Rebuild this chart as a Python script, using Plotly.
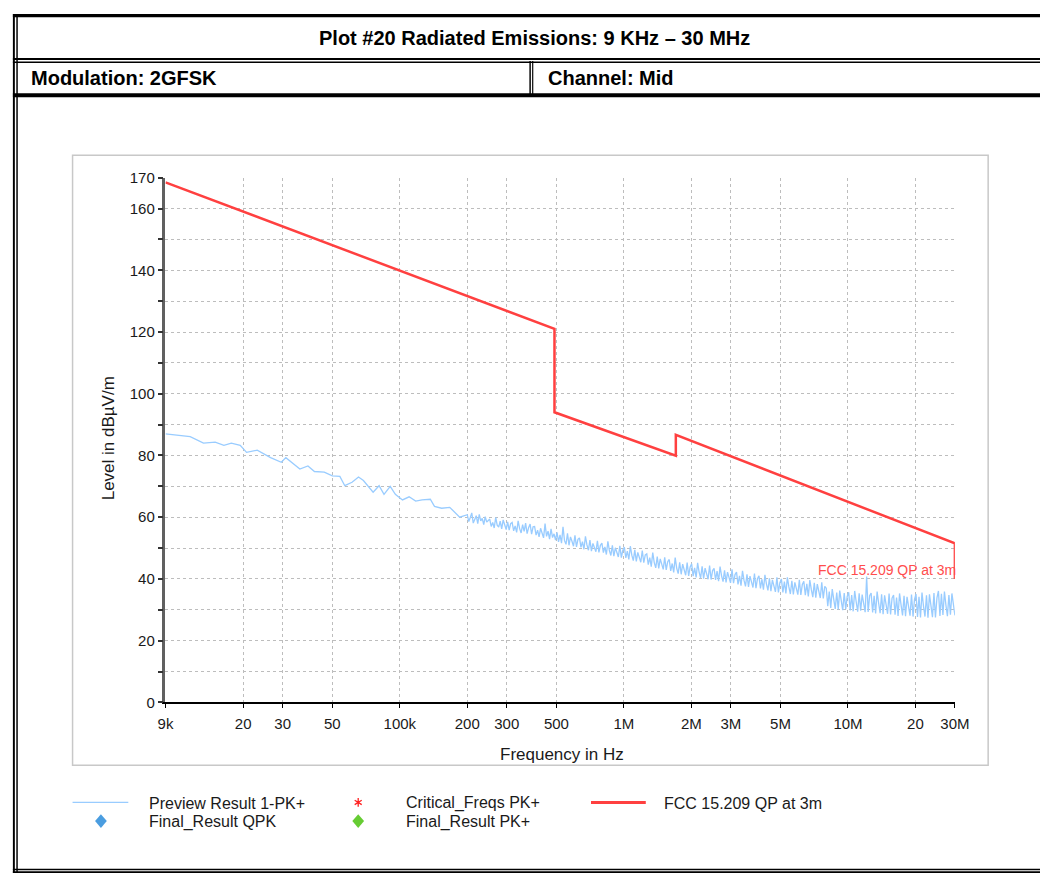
import numpy as np
import plotly.graph_objects as go

W, H = 1055, 882

# ---------------- data ----------------
title_text = "Plot #20 Radiated Emissions: 9 KHz \u2013 30 MHz"
modulation_text = "Modulation: 2GFSK"
channel_text = "Channel: Mid"
x_title = "Frequency in Hz"
y_title = "Level in dB\u00b5V/m"
limit_name = "FCC 15.209 QP at 3m"

x_tick_vals = [9e3, 2e4, 3e4, 5e4, 1e5, 2e5, 3e5, 5e5, 1e6, 2e6, 3e6, 5e6, 1e7, 2e7, 3e7]
x_tick_text = ["9k", "20", "30", "50", "100k", "200", "300", "500", "1M", "2M", "3M", "5M", "10M", "20", "30M"]
y_tick_vals = [0, 10, 20, 30, 40, 50, 60, 70, 80, 90, 100, 110, 120, 130, 140, 150, 160, 170]
y_tick_text = ["0", "", "20", "", "40", "", "60", "", "80", "", "100", "", "120", "", "140", "", "160", "170"]

limit_freq = [9e3, 490e3, 490e3, 1.705e6, 1.705e6, 30e6, 30e6]
limit_level = [168.5, 121.0, 94.0, 79.9, 86.7, 51.5, 40.0]

# preview sweep, low-frequency part (read point by point)
preview_low_freq = [9000, 11600, 13300, 15000, 16400, 17700, 19400, 20700, 23100, 26500,
                    29600, 31000, 35800, 38900, 41600, 46000, 50000, 54000, 56800, 61200,
                    65400, 68800, 76000, 80800, 85000, 90600, 95500, 102800, 110000, 117700,
                    125700, 136800, 142800, 153700, 167000, 185000]
preview_low_level = [87.0, 86.1, 84.0, 84.3, 83.3, 84.0, 83.3, 81.0, 81.7, 79.3,
                     77.8, 79.3, 75.6, 76.6, 74.8, 74.6, 73.4, 73.2, 70.2, 71.3,
                     73.0, 71.9, 68.1, 70.2, 67.4, 70.0, 67.4, 65.6, 66.6, 65.2,
                     65.6, 65.8, 63.5, 62.9, 63.2, 60.0]

# preview sweep, dense part 200 kHz .. 30 MHz (log-spaced sweep points)
preview_high_start, preview_high_stop = 200e3, 30e6
preview_high_level = [
    60.8, 58.6, 59.9, 61.4, 58.1, 59.2, 60.5, 57.9, 60.9, 58.8, 59.6, 57.6, 60.2, 58.4, 59.0,
    59.4, 57.0, 58.3, 56.5, 59.9, 57.4, 56.8, 58.7, 56.2, 59.1, 57.7, 56.0, 58.5, 55.8, 57.9,
    58.3, 55.6, 57.2, 55.1, 58.8, 56.3, 54.9, 57.6, 55.4, 58.1, 54.7, 56.6, 57.8, 54.5, 56.9,
    57.0, 54.2, 55.8, 53.6, 56.4, 55.0, 53.3, 57.9, 53.8, 55.5, 52.9, 56.2, 53.4, 54.6, 52.6,
    55.1, 52.0, 54.3, 51.6, 56.9, 52.4, 51.2, 54.8, 50.9, 53.6, 52.2, 50.6, 54.1, 50.4, 52.8,
    53.3, 50.2, 52.1, 49.6, 53.8, 51.0, 49.3, 52.6, 49.0, 51.5, 50.4, 48.8, 52.3, 48.6, 50.9,
    51.6, 48.5, 50.4, 47.9, 52.2, 49.2, 47.6, 50.9, 47.4, 50.1, 48.6, 47.1, 50.7, 46.9, 49.3,
    50.3, 46.8, 49.0, 46.3, 50.6, 47.7, 45.9, 49.4, 45.7, 48.6, 47.1, 45.4, 49.2, 45.3, 47.8,
    48.1, 44.6, 46.9, 44.0, 48.5, 45.3, 43.6, 47.2, 43.4, 46.5, 44.9, 43.1, 47.0, 42.9, 45.6,
    46.3, 42.6, 45.0, 42.1, 46.9, 43.5, 41.7, 45.4, 41.5, 44.8, 43.0, 41.2, 45.3, 41.0, 43.9,
    44.9, 40.9, 43.6, 40.5, 45.2, 42.2, 40.3, 44.1, 40.1, 43.5, 41.6, 39.9, 44.3, 39.8, 42.7,
    43.4, 39.7, 42.5, 39.3, 44.0, 41.0, 39.1, 42.8, 38.9, 42.2, 40.3, 38.7, 43.1, 38.6, 41.4,
    42.2, 38.2, 41.0, 37.8, 42.6, 39.6, 37.6, 41.5, 37.4, 40.9, 38.9, 37.2, 41.7, 37.0, 40.1,
    41.0, 36.9, 39.9, 36.5, 41.3, 38.4, 36.3, 40.2, 36.0, 39.7, 37.6, 35.8, 40.5, 35.6, 38.8,
    40.0, 35.6, 39.1, 35.3, 40.5, 37.4, 35.1, 39.4, 35.0, 38.9, 36.8, 34.9, 39.7, 34.8, 38.2,
    39.2, 34.7, 38.4, 34.3, 39.6, 36.6, 34.1, 38.7, 33.9, 38.3, 35.9, 33.8, 38.9, 33.7, 37.6,
    37.0, 31.2, 35.9, 30.6, 36.7, 33.4, 30.3, 35.6, 30.1, 36.2, 32.5, 29.9, 35.4, 30.2, 34.3,
    35.7, 29.8, 34.8, 29.5, 36.1, 32.6, 29.4, 35.3, 29.7, 34.9, 31.8, 29.2, 40.8, 29.3, 34.6,
    35.4, 29.1, 34.5, 28.8, 35.9, 32.2, 28.9, 35.0, 28.6, 34.7, 31.4, 28.7, 35.3, 28.5, 33.8,
    34.8, 28.4, 34.0, 28.0, 35.3, 31.6, 28.2, 34.5, 27.9, 34.2, 30.9, 28.1, 34.9, 27.8, 33.4,
    35.1, 27.7, 34.2, 27.5, 35.6, 31.2, 27.8, 34.7, 27.4, 35.0, 30.6, 27.6, 35.4, 27.5, 33.9,
    36.1, 28.0, 35.2, 28.3, 35.9, 31.5, 27.9, 34.8, 28.4, 35.3, 30.8, 28.2,
]

legend_names = ["Preview Result 1-PK+", "Critical_Freqs PK+", "FCC 15.209 QP at 3m",
                "Final_Result QPK", "Final_Result PK+"]

# ---------------- styling ----------------
BLUE = "#99ccff"
RED = "#ff4040"
TEXT_FONT = "Liberation Sans, Arial, sans-serif"
HEAD_FONT = "Liberation Sans Narrow, Arial Narrow, Liberation Sans, Arial, sans-serif"
PL, PR, PT, PB = 161, 968, 172, 707


def fx(px):
    return px / W


def fy(py):
    return 1 - py / H


preview_high_freq = np.geomspace(preview_high_start, preview_high_stop, len(preview_high_level))
preview_freq = list(preview_low_freq) + list(preview_high_freq)
preview_level = list(preview_low_level) + list(preview_high_level)

fig = go.Figure()
fig.add_trace(go.Scatter(x=preview_freq, y=preview_level, mode="lines",
                         line=dict(color=BLUE, width=1.3), name=legend_names[0],
                         showlegend=False, hoverinfo="skip"))
fig.add_trace(go.Scatter(x=limit_freq, y=limit_level, mode="lines",
                         line=dict(color=RED, width=2.5), name=legend_names[2],
                         showlegend=False, hoverinfo="skip"))

shapes = []


def rect(x0, y0, x1, y1, color="black"):
    shapes.append(dict(type="rect", xref="paper", yref="paper",
                       x0=fx(x0), x1=fx(x1), y0=fy(y1), y1=fy(y0),
                       fillcolor=color, line=dict(width=0), layer="above"))


# outer table frame
rect(5, 5, W, 8.5)            # top
rect(5, 5, 7, 881)            # left outer
rect(8.5, 5, 10, 881)         # left inner
rect(5, 50, W, 52)            # header divider (double)
rect(5, 53.5, W, 55)
rect(5, 86, W, 90)            # below second row
rect(533, 53, 534.5, 87)      # vertical divider (double)
rect(535.8, 53, 537, 87)
rect(5, 876.7, W, 878.3)      # bottom (double)
rect(5, 879.3, W, 881)

# chart panel border
shapes.append(dict(type="rect", xref="paper", yref="paper",
                   x0=fx(66), x1=fx(1002), y0=fy(771), y1=fy(149),
                   line=dict(color="#c8c8c8", width=1.5), fillcolor="rgba(0,0,0,0)", layer="below"))

# legend symbols
shapes.append(dict(type="line", xref="paper", yref="paper",
                   x0=fx(66), x1=fx(123), y0=fy(809), y1=fy(809),
                   line=dict(color=BLUE, width=1.2)))
shapes.append(dict(type="line", xref="paper", yref="paper",
                   x0=fx(596), x1=fx(652), y0=fy(809), y1=fy(809),
                   line=dict(color=RED, width=3)))


def diamond(cx, cy, color, w=12, h=14):
    path = (f"M {fx(cx)},{fy(cy - h / 2)} L {fx(cx + w / 2)},{fy(cy)} "
            f"L {fx(cx)},{fy(cy + h / 2)} L {fx(cx - w / 2)},{fy(cy)} Z")
    shapes.append(dict(type="path", xref="paper", yref="paper", path=path,
                       fillcolor=color, line=dict(width=0)))


diamond(95, 828, "#4a9de0")
diamond(358, 828, "#66cc33")

# asterisk (critical freqs)
cx, cy, r = 358, 809, 4.5
ast = (f"M {fx(cx)},{fy(cy - r)} L {fx(cx)},{fy(cy + r)} "
       f"M {fx(cx - r * 0.8)},{fy(cy - r * 0.5)} L {fx(cx + r * 0.8)},{fy(cy + r * 0.5)} "
       f"M {fx(cx - r * 0.8)},{fy(cy + r * 0.5)} L {fx(cx + r * 0.8)},{fy(cy - r * 0.5)}")
shapes.append(dict(type="path", xref="paper", yref="paper", path=ast,
                   line=dict(color="#ff2020", width=1.3)))

annotations = []


def text(t, x, y, size, anchor="left", color="#1a1a1a", family=TEXT_FONT, bold=False, angle=0):
    annotations.append(dict(text=(f"<b>{t}</b>" if bold else t), xref="paper", yref="paper",
                            x=fx(x), y=fy(y), xanchor=anchor, yanchor="middle",
                            showarrow=False, textangle=angle,
                            font=dict(size=size, color=color, family=family)))


text(title_text, 538, 30, 20, anchor="center", color="black", family=HEAD_FONT, bold=True)
text(modulation_text, 21, 70, 20, color="black", family=HEAD_FONT, bold=True)
text(channel_text, 550, 70, 20, color="black", family=HEAD_FONT, bold=True)
text(x_title, 566, 760, 17, anchor="center")
text(y_title, 103, 438, 17, anchor="center", angle=-90)
text(limit_name, 971, 572, 14, anchor="right", color="#ff4d4d")

text(legend_names[0], 142, 810, 16)
text(legend_names[1], 405, 810, 16)
text(legend_names[2], 669, 810, 16)
text(legend_names[3], 142, 829, 16)
text(legend_names[4], 405, 829, 16)

fig.update_layout(
    width=W, height=H, autosize=False,
    margin=dict(l=0, r=0, t=0, b=0, pad=0),
    paper_bgcolor="white", plot_bgcolor="rgba(0,0,0,0)",
    showlegend=False,
    shapes=shapes, annotations=annotations,
    font=dict(family=TEXT_FONT, color="#1a1a1a"),
    xaxis=dict(type="log", domain=[fx(PL), fx(PR)],
               range=[np.log10(9e3), np.log10(3e7)],
               tickmode="array", tickvals=x_tick_vals, ticktext=x_tick_text,
               ticks="outside", ticklen=4, tickwidth=1.2, tickcolor="black",
               showline=True, linecolor="black", linewidth=1.5,
               showgrid=True, gridcolor="#bdbdbd", griddash="dot", gridwidth=1,
               zeroline=False, tickfont=dict(size=15, color="#1a1a1a"),
               ticklabelstandoff=3, fixedrange=True),
    yaxis=dict(domain=[fy(PB), fy(PT)], range=[0, 170],
               tickmode="array", tickvals=y_tick_vals, ticktext=y_tick_text,
               ticks="outside", ticklen=5, tickwidth=1.5, tickcolor="#333333",
               showline=True, linecolor="#606060", linewidth=2.5,
               showgrid=True, gridcolor="#bdbdbd", griddash="dot", gridwidth=1,
               zeroline=False, tickfont=dict(size=15, color="#1a1a1a"),
               ticklabelstandoff=0, fixedrange=True),
)

fig.write_html(
    "out.html",
    config={"displayModeBar": False},
    post_script="document.body.style.margin='0';document.body.style.overflow='hidden';",
)
